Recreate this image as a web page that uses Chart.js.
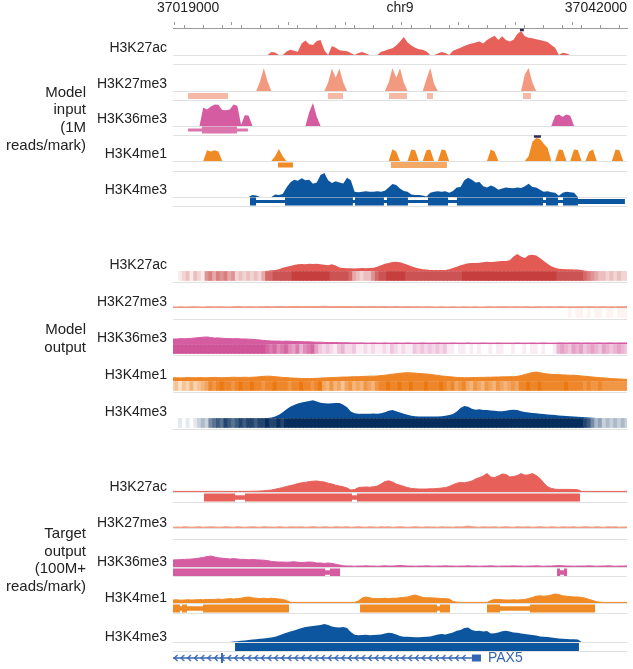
<!DOCTYPE html>
<html>
<head>
<meta charset="utf-8">
<script src="https://cdn.jsdelivr.net/npm/chart.js@4"></script>
<style>
  html, body { margin: 0; background: #fff; }
</style>
</head>
<body>
<canvas id="tracks" width="633" height="669"></canvas>
<script>
// genomic window, 200 bp bins
const binStart = 37018900, binSize = 200;
const xMin = 37018900, xMax = 37042900;
const axisLabels = ['37019000', 'chr9', '37042000'];
const axisLabelPos = [37019700, 37030900, 37041260];
const marks = ['H3K27ac', 'H3K27me3', 'H3K36me3', 'H3K4me1', 'H3K4me3'];
const groupNames = [['Model', 'input', '(1M', 'reads/mark)'], ['Model', 'output'], ['Target', 'output', '(100M+', 'reads/mark)']];
const geneName = 'PAX5';

// ---- model input (1M reads), % of track max ----
const inK27ac = [
  0,0,0,0,0,0,0,0,0,0,
  0,0,0,0,0,0,0,0,0,0,
  0,0,0,0,0,0,12,10,0,0,
  15,22,18,14,48,60,45,42,58,62,
  20,0,38,30,20,18,16,8,0,8,
  12,6,0,0,0,14,18,24,28,40,
  56,75,52,40,30,24,22,15,0,0,
  6,12,8,0,18,24,30,38,44,48,
  52,56,48,62,72,80,62,78,62,56,
  64,88,100,78,72,70,66,63,58,54,
  42,30,0,9,6,0,0,0,0,0,
  0,0,0,0,0,0,0,0,0,0,
  0];
const inK27me3 = [
  0,0,0,0,0,0,0,0,0,0,
  0,0,0,0,0,0,0,0,0,0,
  0,0,0,40,96,40,0,0,0,0,
  0,0,0,0,0,0,0,0,0,0,
  0,35,94,55,94,35,0,0,0,0,
  0,0,0,0,0,0,0,35,95,55,
  95,35,0,0,0,0,0,50,96,30,
  0,0,0,0,0,0,0,0,0,0,
  0,0,0,0,0,0,0,0,0,0,
  0,0,0,70,96,35,0,0,0,0,
  0,0,0,0,0,0,0,0,0,0,
  0,0,0,0,0,0,0,0,0,0,
  0];
const inK36me3 = [
  0,0,0,0,0,0,0,0,80,72,
  85,94,92,70,68,72,94,88,5,48,
  45,0,0,0,0,0,0,0,0,0,
  0,0,0,0,0,0,60,100,40,0,
  0,0,0,0,0,0,0,0,0,0,
  0,0,0,0,0,0,0,0,0,0,
  0,0,0,0,0,0,0,0,0,0,
  0,0,0,0,0,0,0,0,0,0,
  0,0,0,0,0,0,0,0,0,0,
  0,0,0,0,0,0,0,0,0,0,
  0,45,50,40,50,45,0,0,0,0,
  0,0,0,0,0,0,0,0,0,0,
  0];
const inK4me1 = [
  0,0,0,0,0,0,0,0,0,45,
  40,45,40,0,0,0,0,0,0,0,
  0,0,0,0,0,0,0,20,50,20,
  0,0,0,0,0,0,0,0,0,0,
  0,0,0,0,0,0,0,0,0,0,
  0,0,0,0,0,0,0,0,49,40,
  0,0,0,48,45,0,0,45,48,0,
  0,48,45,0,0,0,0,0,0,0,
  0,0,0,0,48,40,0,0,0,0,
  0,0,0,0,20,80,96,92,72,55,
  0,0,48,46,0,0,48,46,0,0,
  40,48,0,0,0,0,0,48,45,0,
  0];
const inK4me3 = [
  0,0,0,0,0,0,0,0,0,0,
  0,0,0,0,0,0,0,0,0,0,
  0,8,6,0,0,0,0,10,8,12,
  40,60,72,68,78,70,72,55,60,92,
  100,70,58,66,60,56,80,70,22,20,
  22,24,22,22,24,22,26,40,54,50,
  35,25,22,10,8,8,6,2,18,22,
  24,22,24,18,25,40,42,70,80,72,
  60,62,45,40,48,42,30,35,40,38,
  36,40,38,45,55,42,40,30,22,24,
  20,18,5,18,22,20,18,0,0,0,
  0,0,0,0,0,0,0,0,0,0,
  0];

// ---- model output ----
const outK27ac = [
  0,0,0,0,0,0,0,0,0,0,
  0,0,0,0,0,0,0,0,0,0,
  0,0,0,0,0,2,4,6,10,18,
  24,28,34,37,39,38,40,39,40,38,
  35,32,38,30,20,16,15,15,14,15,
  16,15,16,18,24,32,40,45,50,52,
  48,42,35,26,20,14,10,8,6,5,
  5,5,6,10,16,24,32,38,43,45,
  44,46,48,52,50,52,54,55,56,60,
  80,95,80,72,88,90,86,72,55,40,
  26,18,13,11,10,10,9,8,5,2,
  0,0,0,0,0,0,0,0,0,0,
  0];
const outK27me3 = [
  6,6,7,6,6,7,7,6,6,7,
  7,6,7,7,6,6,7,8,7,6,
  7,7,6,7,7,8,7,7,8,8,
  7,8,8,9,8,8,9,8,8,9,
  10,9,8,8,9,8,8,8,7,8,
  8,7,8,8,7,8,8,7,7,8,
  7,7,8,7,7,7,6,7,7,6,
  6,7,6,6,7,6,6,7,6,6,
  7,6,6,7,7,6,7,7,7,6,
  7,7,6,7,7,6,7,7,6,7,
  7,6,7,7,6,7,6,7,7,6,
  7,7,6,7,7,6,7,6,7,7,
  7];
const outK36me3 = [
  28,28,30,29,30,32,34,36,38,39,
  36,33,34,32,30,30,29,30,28,28,
  27,26,24,22,20,18,17,16,16,15,
  16,15,14,14,13,12,12,11,10,10,
  9,8,8,8,7,7,7,6,6,6,
  6,5,5,6,5,5,6,5,5,6,
  5,5,6,5,5,5,6,5,5,5,
  6,5,5,5,6,5,5,5,6,5,
  5,5,6,5,5,5,6,5,5,5,
  5,6,5,5,5,6,5,5,6,5,
  5,5,6,6,5,6,6,6,5,6,
  6,5,6,6,5,6,6,5,6,6,
  6];
const outK4me1 = [
  18,18,17,18,19,18,18,19,18,18,
  19,20,19,18,19,20,21,20,20,21,
  20,21,22,24,26,27,26,24,22,20,
  19,17,16,15,14,14,13,14,15,16,
  17,18,19,20,21,22,22,23,24,24,
  25,26,27,27,28,30,32,35,38,40,
  43,45,46,45,44,42,40,39,37,34,
  31,28,26,24,22,20,19,18,18,19,
  19,20,20,21,21,22,22,23,23,24,
  24,26,30,36,42,47,50,46,42,39,
  37,36,35,34,33,32,32,30,28,26,
  24,22,20,18,17,15,13,12,11,10,
  9];
const outK4me3 = [
  0,0,0,0,0,0,0,0,0,0,
  0,0,0,0,0,0,0,0,0,0,
  0,0,0,0,0,0,3,8,18,32,
  48,62,72,80,86,90,94,98,92,85,
  82,80,82,84,83,74,60,36,26,24,
  24,23,24,25,24,26,32,40,44,38,
  30,24,18,12,10,9,8,9,9,8,
  9,10,12,16,22,36,55,66,62,52,
  46,48,45,44,42,40,38,37,40,44,
  46,44,38,34,31,28,26,24,22,20,
  18,16,14,13,11,10,8,7,6,4,
  3,2,0,0,0,0,0,0,0,0,
  0];

// heat strips under model output, levels 0-9
const heatK27ac = [
  0,0,1,2,3,1,3,2,1,5,
  6,4,6,5,6,4,5,2,3,2,
  3,2,3,2,4,7,7,8,8,8,
  8,8,9,9,9,9,9,9,9,9,
  9,9,8,8,8,8,8,7,4,3,
  2,3,3,5,7,8,8,9,9,9,
  9,9,8,8,8,8,8,8,8,8,
  8,8,8,8,8,8,8,9,9,9,
  9,9,9,9,9,9,9,9,9,9,
  9,9,9,9,9,9,9,9,9,9,
  9,9,8,8,8,8,8,8,8,7,
  6,5,4,3,3,2,3,2,3,2,
  2];
const heatK27me3 = [
  0,0,0,0,0,0,0,0,0,0,
  0,0,0,0,0,0,0,0,0,0,
  0,0,0,0,0,0,0,0,0,0,
  0,0,0,0,0,0,0,0,0,0,
  0,0,0,0,0,0,0,0,0,0,
  0,0,0,0,0,0,0,0,0,0,
  0,0,0,0,0,0,0,0,0,0,
  0,0,0,0,0,0,0,0,0,0,
  0,0,0,0,0,0,0,0,0,0,
  0,0,0,0,0,0,0,0,0,0,
  0,0,0,0,0,1,0,1,1,0,
  1,0,1,1,0,1,1,0,1,1,
  1];
const heatK36me3 = [
  9,9,9,9,9,9,9,9,9,9,
  9,9,9,9,9,9,9,9,9,9,
  9,9,9,9,9,8,7,8,6,7,
  8,6,5,7,4,6,7,8,5,3,
  2,3,2,1,3,4,2,2,3,1,
  1,2,1,2,1,1,2,1,3,2,
  1,2,1,1,3,2,3,2,3,2,
  3,2,3,1,1,0,1,1,0,1,
  0,1,0,0,1,0,1,1,0,0,
  1,0,0,1,0,1,1,0,1,0,
  0,1,4,5,4,3,5,4,5,3,
  4,5,4,3,5,4,3,4,5,4,
  3];
const heatK4me1 = [
  3,4,2,4,3,5,3,4,5,6,
  8,7,8,9,8,8,7,8,9,8,
  8,9,8,8,7,8,8,9,8,8,
  8,7,8,8,9,8,8,7,8,9,
  6,5,7,5,6,4,6,7,5,6,
  5,7,6,5,7,8,8,9,8,8,
  9,8,8,9,8,8,8,9,8,8,
  8,9,8,7,8,6,7,8,6,5,
  7,6,5,7,6,5,7,6,5,6,
  7,6,8,8,9,8,8,9,8,8,
  8,8,8,8,9,8,8,8,8,7,
  8,7,7,8,7,7,7,7,7,7,
  7];
const heatK4me3 = [
  0,0,1,0,1,0,1,2,3,2,
  5,6,7,6,8,7,6,7,8,7,
  8,8,7,8,8,9,8,8,9,8,
  9,9,9,9,9,9,9,9,9,9,
  9,9,9,9,9,9,9,9,9,9,
  9,9,9,9,9,9,9,9,9,9,
  9,9,9,9,9,9,9,9,9,9,
  9,9,9,9,9,9,9,9,9,9,
  9,9,9,9,9,9,9,9,9,9,
  9,9,9,9,9,9,9,9,9,9,
  9,9,9,9,9,9,9,9,9,8,
  7,5,3,4,2,3,2,3,2,3,
  2];

// ---- target output (100M+ reads) ----
const tgK27ac = [
  3,3,3,3,3,3,3,3,3,3,
  3,3,3,3,3,3,3,3,3,3,
  3,4,4,5,6,8,10,14,18,22,
  28,32,36,42,46,48,52,54,55,52,
  50,44,40,34,30,26,20,10,12,22,
  24,25,24,26,30,40,52,56,50,40,
  34,28,22,18,16,15,15,15,16,16,
  18,20,22,28,36,44,48,46,50,55,
  65,72,80,92,75,72,80,90,88,75,
  78,82,92,84,86,92,82,68,45,26,
  18,14,13,13,13,13,12,11,3,3,
  3,3,3,3,3,3,3,3,3,3,
  3];
const tgK27me3 = [
  4,5,4,6,5,4,5,6,4,5,
  6,5,4,5,6,5,4,6,5,4,
  5,6,5,4,6,5,5,4,6,5,
  4,6,5,5,6,4,5,6,5,4,
  6,5,4,6,5,5,6,4,5,6,
  5,4,6,5,4,6,5,6,4,5,
  6,5,4,5,6,5,4,6,5,5,
  4,6,5,5,4,6,5,6,10,6,
  5,4,6,5,5,6,4,5,6,5,
  4,6,5,5,6,4,5,6,5,4,
  6,5,4,6,5,5,6,4,5,6,
  5,4,6,5,4,6,5,6,4,5,
  5];
const tgK36me3 = [
  35,36,37,38,39,40,42,45,48,52,
  55,50,46,44,42,40,42,40,38,38,
  36,38,36,35,34,32,28,26,25,25,
  24,25,26,24,22,24,25,24,20,20,
  18,20,18,14,10,6,5,5,4,5,
  5,6,5,5,4,5,6,5,5,6,
  8,6,5,5,4,5,5,6,5,4,
  5,5,6,5,5,4,5,5,6,5,
  5,4,5,5,6,5,4,5,5,5,
  6,5,5,4,5,5,6,5,4,5,
  5,6,7,6,5,5,4,5,5,5,
  6,5,4,5,5,6,5,4,5,5,
  5];
const tgK4me1 = [
  15,16,14,15,16,15,16,17,16,18,
  17,18,20,18,20,22,20,22,24,28,
  30,26,24,22,24,22,24,22,20,18,
  12,4,3,3,3,3,3,3,3,3,
  3,3,3,3,3,3,3,3,3,10,
  25,30,26,22,22,22,24,22,24,24,
  26,28,30,36,40,34,28,26,26,25,
  24,22,22,20,8,4,3,3,3,3,
  3,3,3,3,12,18,18,16,15,15,
  16,15,16,18,22,28,34,36,34,36,
  40,45,42,36,34,32,30,30,28,24,
  18,12,6,4,3,3,3,3,3,3,
  3];
const tgK4me3 = [
  0,0,0,0,0,0,0,0,0,0,
  0,0,0,0,0,0,2,4,6,8,
  10,12,14,16,18,20,22,26,32,40,
  46,52,58,64,70,75,78,80,82,85,
  90,85,78,74,72,75,70,50,36,34,
  35,36,34,35,36,38,42,46,44,38,
  30,26,26,25,24,24,25,26,28,32,
  38,40,38,42,48,56,60,70,72,60,
  55,56,52,55,42,44,48,54,56,52,
  48,46,42,40,38,35,32,28,26,25,
  22,20,18,16,15,14,14,13,0,0,
  0,0,0,0,0,0,0,0,0,0,
  0];

// ---- annotation intervals (bp) ----
const inK27me3Regions = [[37019690, 37021810], [37027090, 37027890], [37030320, 37031270], [37032330, 37032640], [37037400, 37037820]];
const inK36me3Span = [[37019690, 37022860]];
const inK36me3Blocks = [[37020430, 37022280]];
const inK4me1Blocks = [[37024450, 37025240]];
const inK4me1Regions = [[37030420, 37033380]];
const inK4me3Span = [[37022970, 37040310]];
const inK4me3Blocks = [[37022970, 37023290], [37024820, 37028410], [37028520, 37030050], [37030210, 37031320], [37032380, 37033440], [37033910, 37038460], [37038620, 37039250], [37039520, 37040310]];
const inK4me3Tail = [[37040310, 37042790]];
const tgK27acSpan = [[37020540, 37040410]];
const tgK27acBlocks = [[37020540, 37022180], [37022710, 37028360], [37028630, 37040410]];
const tgK36me3Span = [[37018900, 37027730], [37039200, 37039730]];
const tgK36me3Blocks = [[37018900, 37026940], [37027200, 37027730], [37039200, 37039360], [37039570, 37039730]];
const tgK4me1Span = [[37018900, 37025030], [37028790, 37033540], [37035500, 37041210]];
const tgK4me1Blocks = [[37018900, 37019270], [37019380, 37019640], [37020490, 37025030], [37028790, 37032860], [37033010, 37033540], [37035500, 37036190], [37037770, 37041210]];
const tgK4me3Blocks = [[37022180, 37040360]];
const geneSpan = [[37018900, 37034700]];
const geneExon = [[37021440, 37021540]];
const geneTss = [[37034700, 37035180]];
const clipK27ac = [[37037240, 37037450]];
const clipK4me1 = [[37037980, 37038350]];

// ---- layout rows (px) ----
const rows = [
  { id: 'in0', h: 36, a: 27, b: 9, s: 24, lab: 7, name: marks[0] },
  { id: 'in1', h: 36, a: 27, b: 9, s: 24, lab: 7, name: marks[1] },
  { id: 'in2', h: 35, a: 26, b: 9, s: 23, lab: 7, name: marks[2] },
  { id: 'in3', h: 36, a: 26, b: 10, s: 24, lab: 7, name: marks[3] },
  { id: 'in4', h: 35, a: 26, b: 9, s: 24, lab: 7, name: marks[4] },
  { id: 'gap1', h: 39 },
  { id: 'out0', h: 37, a: 26, b: 11, s: 18, lab: 5.5, name: marks[0] },
  { id: 'out1', h: 37, a: 26, b: 11, s: 18, lab: 5.5, name: marks[1] },
  { id: 'out2', h: 36, a: 25, b: 11, s: 18, lab: 5.5, name: marks[2] },
  { id: 'out3', h: 37, a: 26, b: 11, s: 18, lab: 5.5, name: marks[3] },
  { id: 'out4', h: 37, a: 26, b: 11, s: 18, lab: 5.5, name: marks[4] },
  { id: 'gap2', h: 37 },
  { id: 'tg0', h: 36, a: 26, b: 10, s: 20, lab: 5, name: marks[0] },
  { id: 'tg1', h: 37, a: 26, b: 11, s: 20, lab: 5, name: marks[1] },
  { id: 'tg2', h: 37, a: 28, b: 9, s: 20, lab: 5, name: marks[2] },
  { id: 'tg3', h: 37, a: 27, b: 10, s: 20, lab: 5, name: marks[3] },
  { id: 'tg4', h: 38, a: 29, b: 9, s: 20, lab: 5, name: marks[4] },
  { id: 'gene', h: 18, a: 7, b: 11 }
];
const rowById = {};
rows.forEach(r => { rowById[r.id] = r; });

const font = '"Liberation Sans", Arial, sans-serif';
const red = '#e8605a', salmon = '#f29a7f', pink = '#d65ca2', orange = '#f08a24', blue = '#0c56a0';
const geneBlue = '#3465b2';

function area(vals, id, color, bw) {
  const r = rowById[id];
  return {
    type: 'line', yAxisID: id,
    data: vals.map((v, i) => ({ x: binStart + i * binSize, y: v * r.s / 100 })),
    backgroundColor: color, borderColor: bw ? color : 'rgba(0,0,0,0)', borderWidth: bw,
    fill: 'origin', pointRadius: 0, tension: 0
  };
}

function shade(rgb, level) {
  const t = level / 9;
  return 'rgb(' + rgb.map(c => Math.round(255 + (c - 255) * t)).join(',') + ')';
}

function strip(levels, id, rgb) {
  return {
    type: 'bar', yAxisID: id, grouped: false,
    data: levels.map((v, i) => ({ x: binStart + i * binSize, y: [-9.5, 0] })),
    backgroundColor: levels.map(v => shade(rgb, v)),
    borderWidth: 0, barThickness: 4.2, barPercentage: 1, categoryPercentage: 1
  };
}

function segs(list, id, y, width, color) {
  const data = [];
  list.forEach(([s, e]) => { data.push({ x: s, y: y }, { x: e, y: y }, { x: e, y: null }); });
  return {
    type: 'line', yAxisID: id, data: data, fill: false,
    borderColor: color, borderWidth: width, borderCapStyle: 'butt',
    pointRadius: 0, spanGaps: false
  };
}

// strand chevrons along the gene
const chev = document.createElement('canvas');
chev.width = 6; chev.height = 8;
const cg = chev.getContext('2d');
cg.strokeStyle = geneBlue; cg.lineWidth = 1.3;
cg.beginPath(); cg.moveTo(4.6, 1); cg.lineTo(1.6, 4); cg.lineTo(4.6, 7); cg.stroke();
const chevPts = [];
for (let p = geneSpan[0][0] + 150; p < geneSpan[0][1] - 150; p += 354) chevPts.push({ x: p, y: 0 });

const datasets = [
  // model input
  area(inK27ac, 'in0', red, 0),
  area(inK27me3, 'in1', salmon, 0),
  area(inK36me3, 'in2', pink, 0),
  area(inK4me1, 'in3', orange, 0),
  area(inK4me3, 'in4', blue, 0),
  segs(inK27me3Regions, 'in1', -5, 6, '#f5b9a5'),
  segs(inK27me3Regions, 'in1', -5, 2.5, '#fde6dd'),
  segs(inK36me3Span, 'in2', -4, 3, '#dc74ad'),
  segs(inK36me3Blocks, 'in2', -4, 7, '#dc74ad'),
  segs(inK4me1Blocks, 'in3', -4, 5, orange),
  segs(inK4me1Regions, 'in3', -4, 6, '#f3a865'),
  segs(inK4me1Regions, 'in3', -4, 2.5, '#fde5cc'),
  segs(inK4me3Span, 'in4', -4.5, 3, blue),
  segs(inK4me3Blocks, 'in4', -4.5, 8, blue),
  segs(inK4me3Tail, 'in4', -4.5, 5, blue),
  segs(clipK27ac, 'in0', 25, 2.5, '#2b2b55'),
  segs(clipK4me1, 'in3', 24.5, 2.5, '#2b2b55'),
  // model output
  strip(heatK27ac, 'out0', [198, 62, 62]),
  strip(heatK27me3, 'out1', [240, 150, 122]),
  strip(heatK36me3, 'out2', [208, 84, 152]),
  strip(heatK4me1, 'out3', [236, 120, 16]),
  strip(heatK4me3, 'out4', [6, 45, 92]),
  area(outK27ac, 'out0', '#e35a55', 0),
  area(outK27me3, 'out1', '#ef9a80', 1),
  area(outK36me3, 'out2', '#d65ca2', 1),
  area(outK4me1, 'out3', '#ef8425', 1),
  area(outK4me3, 'out4', '#0b4f98', 0),
  // target output
  area(tgK27ac, 'tg0', red, 1),
  area(tgK27me3, 'tg1', salmon, 1),
  area(tgK36me3, 'tg2', pink, 1),
  area(tgK4me1, 'tg3', orange, 1),
  area(tgK4me3, 'tg4', blue, 0),
  segs(tgK27acSpan, 'tg0', -5.5, 4.5, red),
  segs(tgK27acBlocks, 'tg0', -5.5, 8, red),
  segs(tgK36me3Span, 'tg2', -5.5, 4.5, pink),
  segs(tgK36me3Blocks, 'tg2', -5.5, 8, pink),
  segs(tgK4me1Span, 'tg3', -5.5, 4.5, orange),
  segs(tgK4me1Blocks, 'tg3', -5.5, 8, orange),
  segs(tgK4me3Blocks, 'tg4', -5, 8, blue),
  // gene model
  segs(geneSpan, 'gene', 0, 1.4, geneBlue),
  segs(geneExon, 'gene', 0, 10, geneBlue),
  segs(geneTss, 'gene', 0, 7, geneBlue),
  { type: 'line', yAxisID: 'gene', data: chevPts, showLine: false, pointStyle: chev, pointRadius: 3 }
];

function noPad(s) {
  s.paddingTop = 0; s.paddingBottom = 0; s.paddingLeft = 0; s.paddingRight = 0;
}

// minor ticks every kb, taller marks every 3 kb
const minorTicks = [], majorTicks = [];
for (let v = 37019000; v <= 37042000; v += 1000) {
  minorTicks.push(v);
  if ((v - 37019000) % 3000 === 0) majorTicks.push(v);
}
const labelTicks = majorTicks.concat(axisLabelPos);

const scales = {
  xl: {
    type: 'linear', axis: 'x', position: 'top', min: xMin, max: xMax, weight: 2,
    grid: { display: true, drawOnChartArea: false, drawTicks: true, tickLength: 3,
      tickColor: ctx => ctx.index < majorTicks.length ? '#9a9a9a' : 'rgba(0,0,0,0)' },
    border: { display: false },
    afterBuildTicks: s => { s.ticks = labelTicks.map(v => ({ value: v })); },
    afterFit: s => { s.height = 25; noPad(s); },
    ticks: { autoSkip: false, maxRotation: 0, padding: 5, color: '#222', font: { family: font, size: 14 },
      callback: (v, i) => i < majorTicks.length ? '' : axisLabels[i - majorTicks.length] }
  },
  x: {
    type: 'linear', axis: 'x', position: 'top', min: xMin, max: xMax, weight: 1, offset: false,
    grid: { drawOnChartArea: false, drawTicks: true, tickLength: 3, color: '#9a9a9a' },
    border: { display: true, color: '#9a9a9a' },
    afterBuildTicks: s => { s.ticks = minorTicks.map(v => ({ value: v })); },
    afterFit: s => { s.height = 3; noPad(s); },
    ticks: { display: false }
  }
};

rows.forEach((r, k) => {
  const base = {
    type: 'linear', axis: 'y', position: 'left', stack: 'tracks', stackWeight: r.h, weight: 100 - k,
    afterFit: s => { s.width = 173; noPad(s); },
    border: { display: false }
  };
  if (!r.name) {
    scales[r.id] = Object.assign(base, {
      min: -(r.b || 0), max: r.a || r.h,
      grid: { display: false }, ticks: { display: false }
    });
    return;
  }
  scales[r.id] = Object.assign(base, {
    min: -r.b, max: r.a,
    afterBuildTicks: s => { s.ticks = [{ value: r.lab }, { value: 0 }, { value: -r.b }]; },
    grid: { drawTicks: false, color: ctx => ctx.index === 0 ? 'rgba(0,0,0,0)' : '#e1e1e1' },
    ticks: { autoSkip: false, padding: 6, color: '#222', font: { family: font, size: 14 },
      callback: (v, i) => i === 0 ? r.name : '' }
  });
});

const groupSpans = [[groupNames[0], 'in0', 'in4'], [groupNames[1], 'out0', 'out4'], [groupNames[2], 'tg0', 'tg4']];

const trackText = {
  id: 'trackText',
  afterDraw(chart) {
    const ctx = chart.ctx;
    ctx.save();
    ctx.font = '15px ' + font;
    ctx.fillStyle = '#222';
    ctx.textAlign = 'right';
    ctx.textBaseline = 'middle';
    groupSpans.forEach(([lines, first, last]) => {
      const mid = (chart.scales[first].top + chart.scales[last].bottom) / 2 + 2;
      lines.forEach((t, j) => ctx.fillText(t, 86, mid + (j - (lines.length - 1) / 2) * 17.6));
    });
    ctx.font = '14px ' + font;
    ctx.fillStyle = geneBlue;
    ctx.textAlign = 'left';
    ctx.fillText(geneName, chart.scales.x.getPixelForValue(geneTss[0][1]) + 7, chart.scales.gene.getPixelForValue(0));
    ctx.restore();
  }
};

new Chart(document.getElementById('tracks'), {
  type: 'line',
  data: { datasets: datasets },
  options: {
    responsive: false,
    devicePixelRatio: 1,
    animation: false,
    events: [],
    layout: { autoPadding: false, padding: { left: 0, right: 6, top: 0, bottom: 0 } },
    plugins: { legend: { display: false }, tooltip: { enabled: false } },
    scales: scales
  },
  plugins: [trackText]
});
</script>
</body>
</html>
